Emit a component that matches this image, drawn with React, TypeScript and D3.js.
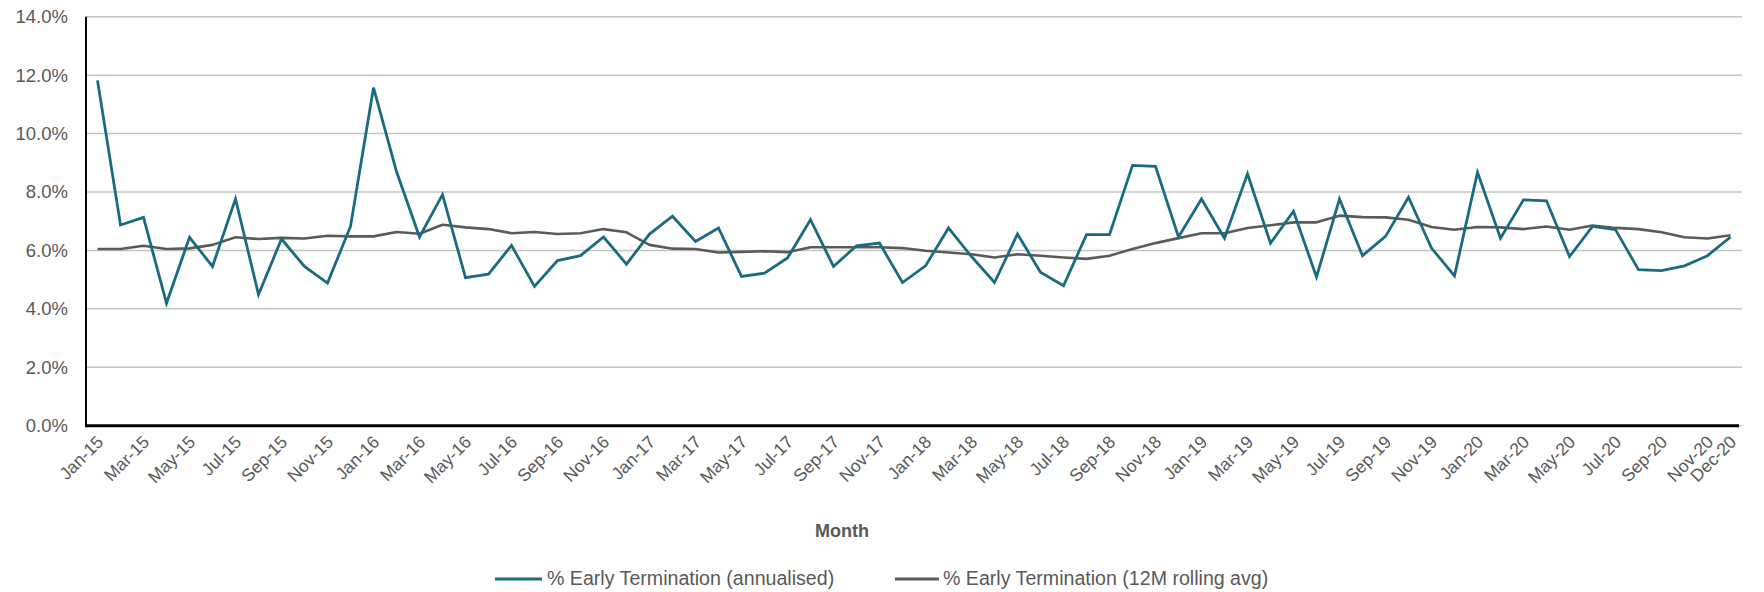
import React from "react";
import * as d3 from "d3";

const months: string[] = [
  "Jan-15","Feb-15","Mar-15","Apr-15","May-15","Jun-15","Jul-15","Aug-15","Sep-15","Oct-15","Nov-15","Dec-15",
  "Jan-16","Feb-16","Mar-16","Apr-16","May-16","Jun-16","Jul-16","Aug-16","Sep-16","Oct-16","Nov-16","Dec-16",
  "Jan-17","Feb-17","Mar-17","Apr-17","May-17","Jun-17","Jul-17","Aug-17","Sep-17","Oct-17","Nov-17","Dec-17",
  "Jan-18","Feb-18","Mar-18","Apr-18","May-18","Jun-18","Jul-18","Aug-18","Sep-18","Oct-18","Nov-18","Dec-18",
  "Jan-19","Feb-19","Mar-19","Apr-19","May-19","Jun-19","Jul-19","Aug-19","Sep-19","Oct-19","Nov-19","Dec-19",
  "Jan-20","Feb-20","Mar-20","Apr-20","May-20","Jun-20","Jul-20","Aug-20","Sep-20","Oct-20","Nov-20","Dec-20",
];

const annualised: number[] = [
  11.82, 6.87, 7.13, 4.19, 6.45, 5.45, 7.77, 4.49, 6.39, 5.45, 4.88, 6.82,
  11.57, 8.70, 6.46, 7.91, 5.07, 5.19, 6.17, 4.77, 5.65, 5.82, 6.46, 5.53,
  6.56, 7.17, 6.31, 6.77, 5.11, 5.22, 5.74, 7.05, 5.45, 6.16, 6.25, 4.90,
  5.47, 6.77, 5.79, 4.90, 6.56, 5.25, 4.79, 6.54, 6.54, 8.91, 8.88, 6.46,
  7.76, 6.42, 8.62, 6.25, 7.34, 5.09, 7.76, 5.82, 6.48, 7.82, 6.08, 5.13,
  8.67, 6.42, 7.73, 7.70, 5.79, 6.82, 6.71, 5.34, 5.31, 5.47, 5.82, 6.46,
];

const rolling: number[] = [
  6.05, 6.05, 6.16, 6.05, 6.07, 6.19, 6.45, 6.39, 6.43, 6.41, 6.50, 6.48,
  6.48, 6.63, 6.57, 6.88, 6.79, 6.73, 6.59, 6.63, 6.56, 6.59, 6.73, 6.62,
  6.19, 6.06, 6.05, 5.93, 5.95, 5.97, 5.94, 6.11, 6.11, 6.11, 6.11, 6.08,
  5.99, 5.93, 5.87, 5.76, 5.87, 5.82, 5.76, 5.71, 5.82, 6.05, 6.25, 6.42,
  6.59, 6.59, 6.77, 6.86, 6.96, 6.96, 7.19, 7.14, 7.13, 7.05, 6.80, 6.71,
  6.80, 6.79, 6.73, 6.82, 6.71, 6.85, 6.77, 6.73, 6.62, 6.45, 6.41, 6.52,
];

const yTicks: number[] = [0, 2, 4, 6, 8, 10, 12, 14];

const seriesNames: string[] = [
  "% Early Termination (annualised)",
  "% Early Termination (12M rolling avg)",
];

const W = 1764;
const H = 592;
const LEFT = 86;
const RIGHT = 1742;
const TOP = 16.7;
const BOTTOM = 425.7;
const TEAL = "#1b6b80";
const GREY = "#5a5a5a";
const TEXT = "#595959";
const FONT = "'Liberation Sans', Arial, sans-serif";

export default function App() {
  const x = d3.scalePoint<string>().domain(months).range([LEFT, RIGHT]).padding(0.5);
  const y = d3.scaleLinear().domain([0, 14]).range([BOTTOM, TOP]);

  const line = d3
    .line<number>()
    .x((_, i) => x(months[i]) as number)
    .y((d) => y(d))
    .curve(d3.curveLinear);

  const labelIdx = months.map((_, i) => i).filter((i) => i % 2 === 0 || i === months.length - 1);

  return (
    <svg
      width={W}
      height={H}
      style={{ position: "absolute", left: 0, top: 0, background: "#fff" }}
      fontFamily={FONT}
    >
      {yTicks.map((t) => (
        <line key={"g" + t} x1={LEFT} x2={RIGHT} y1={y(t)} y2={y(t)} stroke="#c4c4c4" strokeWidth={1.5} />
      ))}
      {yTicks.map((t) => (
        <text
          key={"yl" + t}
          x={68}
          y={y(t)}
          textAnchor="end"
          dominantBaseline="central"
          fontSize={18.5}
          fill={TEXT}
        >
          {t.toFixed(1) + "%"}
        </text>
      ))}
      <line x1={LEFT} x2={LEFT} y1={TOP} y2={BOTTOM} stroke="#000" strokeWidth={2} />
      <line x1={LEFT - 1} x2={RIGHT - 3} y1={BOTTOM} y2={BOTTOM} stroke="#000" strokeWidth={3} />

      <path d={line(rolling) || ""} fill="none" stroke={GREY} strokeWidth={2.6} strokeLinejoin="round" />
      <path d={line(annualised) || ""} fill="none" stroke={TEAL} strokeWidth={2.8} strokeLinejoin="miter" />

      {labelIdx.map((i) => {
        const px = (x(months[i]) as number) + 7;
        const py = 443;
        return (
          <text
            key={"xl" + i}
            x={px}
            y={py}
            textAnchor="end"
            fontSize={17.5}
            fill={TEXT}
            transform={`rotate(-45, ${px}, ${py})`}
          >
            {months[i]}
          </text>
        );
      })}

      <text x={842} y={537} textAnchor="middle" fontSize={18} fontWeight="bold" fill={TEXT}>
        Month
      </text>

      <line x1={495} x2={542} y1={579} y2={579} stroke={TEAL} strokeWidth={3} />
      <text x={547} y={585} fontSize={19.6} fill={TEXT}>
        {seriesNames[0]}
      </text>
      <line x1={895} x2={939} y1={579} y2={579} stroke={GREY} strokeWidth={3} />
      <text x={943} y={585} fontSize={19.6} fill={TEXT}>
        {seriesNames[1]}
      </text>
    </svg>
  );
}
